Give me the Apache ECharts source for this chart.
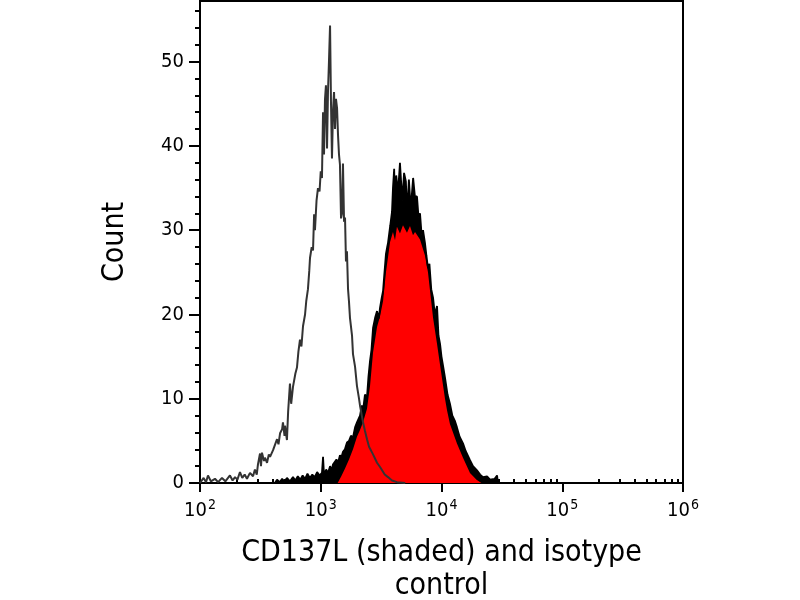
<!DOCTYPE html>
<html>
<head>
<meta charset="utf-8">
<script src="https://cdn.jsdelivr.net/npm/echarts@6/dist/echarts.min.js"></script>
<style>
  html, body { margin: 0; padding: 0; background: #fff; }
  #main { width: 800px; height: 600px; }
</style>
</head>
<body>
<div id="main"></div>
<script>
// x values are log10 of fluorescence intensity (axis spans 10^2 .. 10^6)

// isotype control (grey outline)
var isoX = [2.000, 2.030, 2.050, 2.066, 2.090, 2.124, 2.150, 2.182, 2.210, 2.248, 2.270, 2.290, 2.310, 2.331, 2.350, 2.370, 2.389, 2.414, 2.439, 2.455,
  2.470, 2.480, 2.497, 2.505, 2.513, 2.530, 2.538, 2.555, 2.570, 2.580, 2.605, 2.620, 2.638, 2.650, 2.663, 2.680, 2.687, 2.700, 2.704, 2.720,
  2.730, 2.745, 2.755, 2.770, 2.790, 2.803, 2.815, 2.828, 2.840, 2.853, 2.870, 2.880, 2.894, 2.905, 2.911, 2.925, 2.936, 2.945, 2.952, 2.965,
  2.977, 2.990, 3.000, 3.010, 3.019, 3.027, 3.035, 3.043, 3.052, 3.060, 3.068, 3.077, 3.085, 3.093, 3.101, 3.110, 3.118, 3.126, 3.135, 3.143,
  3.151, 3.159, 3.168, 3.176, 3.184, 3.193, 3.201, 3.209, 3.217, 3.226, 3.234, 3.242, 3.259, 3.267, 3.284, 3.300, 3.315, 3.325, 3.340, 3.350,
  3.366, 3.383, 3.400, 3.433, 3.466, 3.491, 3.530, 3.557, 3.590, 3.631, 3.700]
var isoCount = [0, 0.6, 0.1, 0.9, 0.2, 0.5, 0.1, 0.6, 0.2, 0.9, 0.3, 0.7, 0.4, 1.3, 0.6, 1.0, 0.5, 1.2, 0.8, 1.6,
  1.0, 2.2, 3.5, 2.0, 3.6, 2.6, 3.0, 2.4, 3.4, 3.1, 3.9, 4.5, 5.2, 4.6, 5.9, 6.4, 7.2, 5.6, 6.8, 5.1,
  8.5, 11.8, 9.4, 11.4, 13.0, 13.7, 15.6, 17.0, 16.2, 18.6, 20.0, 21.6, 23.0, 25.2, 26.7, 28.0, 27.6, 31.9, 30.0, 33.5,
  35.0, 34.6, 37.0, 36.2, 44.0, 39.0, 45.5, 47.2, 39.7, 46.5, 50.0, 54.3, 45.0, 38.5, 44.0, 46.4, 42.0, 45.6, 44.5, 41.3,
  39.0, 37.8, 31.4, 32.0, 37.9, 31.0, 31.5, 26.3, 27.5, 23.0, 21.5, 19.6, 17.5, 15.3, 13.8, 11.5, 10.2, 9.2, 8.0, 7.2,
  6.2, 5.2, 4.3, 3.4, 2.4, 1.9, 1.0, 0.7, 0.3, 0.1, 0]

// CD137L, noisy outline (black)
var cdX = [2.620, 2.638, 2.660, 2.680, 2.700, 2.720, 2.745, 2.770, 2.790, 2.810, 2.830, 2.850, 2.870, 2.890, 2.910, 2.930, 2.950, 2.970, 2.990, 3.010,
  3.019, 3.027, 3.045, 3.060, 3.077, 3.090, 3.101, 3.115, 3.130, 3.143, 3.159, 3.170, 3.184, 3.200, 3.217, 3.234, 3.250, 3.267, 3.284, 3.300,
  3.315, 3.325, 3.340, 3.350, 3.366, 3.383, 3.395, 3.408, 3.420, 3.433, 3.450, 3.466, 3.480, 3.491, 3.505, 3.516, 3.525, 3.540, 3.550, 3.557,
  3.575, 3.590, 3.598, 3.608, 3.615, 3.625, 3.640, 3.656, 3.665, 3.675, 3.690, 3.705, 3.715, 3.730, 3.745, 3.765, 3.780, 3.797, 3.810, 3.822,
  3.835, 3.847, 3.863, 3.875, 3.888, 3.900, 3.915, 3.930, 3.945, 3.963, 3.975, 3.988, 4.000, 4.012, 4.029, 4.050, 4.070, 4.090, 4.110, 4.128,
  4.150, 4.178, 4.200, 4.236, 4.261, 4.294, 4.320, 4.344, 4.377, 4.402, 4.440, 4.460, 4.468, 4.480]
var cdOutline = [0, 0.4, 0.1, 0.5, 0.2, 0.6, 0.2, 0.7, 0.3, 0.8, 0.4, 0.9, 0.5, 1.1, 0.6, 1.0, 0.7, 1.3, 0.9, 1.2,
  3.1, 1.0, 1.6, 1.2, 2.0, 1.5, 2.2, 2.0, 2.8, 2.4, 3.3, 3.0, 3.7, 4.0, 4.8, 5.0, 5.6, 5.4, 6.6, 7.2,
  7.0, 8.0, 9.2, 8.6, 10.5, 10.2, 12.6, 14.5, 15.8, 18.4, 19.6, 20.4, 19.5, 20.8, 22.0, 22.8, 24.5, 27.2, 28.0, 28.5,
  30.5, 32.2, 35.0, 37.3, 33.0, 36.5, 34.5, 38.0, 37.9, 33.5, 36.8, 35.8, 32.0, 36.0, 32.5, 36.2, 34.0, 34.0, 31.5, 32.0,
  29.5, 30.0, 28.5, 27.0, 25.5, 26.0, 23.0, 22.0, 20.0, 21.0, 17.5, 16.5, 15.0, 14.0, 12.5, 10.5, 9.4, 8.0, 7.4, 6.6,
  5.5, 4.7, 3.8, 2.7, 2.0, 1.5, 1.0, 0.7, 0.8, 0.4, 0.5, 0.9, 0, 0]

// CD137L, solid red core under the noise
var cdCoreX = [3.140, 3.170, 3.200, 3.234, 3.267, 3.300, 3.325, 3.350, 3.383, 3.408, 3.433, 3.466, 3.491, 3.516, 3.540, 3.574, 3.598, 3.615, 3.631, 3.656,
  3.681, 3.714, 3.739, 3.764, 3.781, 3.822, 3.863, 3.888, 3.905, 3.930, 3.963, 3.988, 4.029, 4.046, 4.070, 4.128, 4.178, 4.236, 4.290, 4.330]
var cdCore = [0, 0.8, 1.7, 2.8, 4.0, 5.5, 6.3, 7.2, 8.8, 11.5, 15.5, 18.5, 19.8, 21.6, 25.0, 28.6, 29.8, 28.8, 30.4, 29.6,
  30.6, 29.7, 30.5, 29.4, 29.8, 28.9, 27.0, 25.0, 22.8, 19.6, 16.5, 14.0, 10.0, 8.6, 7.0, 4.7, 3.0, 1.2, 0.4, 0]

var yMajor = [0, 10, 20, 30, 40, 50]
var yMinor = [2, 4, 6, 8, 12, 14, 16, 18, 22, 24, 26, 28, 32, 34, 36, 38, 42, 44, 46, 48, 52, 54, 56]
var decades = [2, 3, 4, 5, 6]

function pairs(xs, ys) {
  return xs.map((x, i) => [x, ys[i]])
}

// minor ticks at 2..9 x 10^n
var xMinor = []
decades.slice(0, -1).forEach(d => {
  for (let k = 2; k <= 9; k++) xMinor.push(d + Math.log10(k))
})

var font = '"DejaVu Sans Condensed", "DejaVu Sans", sans-serif'
var black = '#000'

var chart = echarts.init(document.getElementById('main'))

var xBase = {
  type: 'value', min: 2, max: 6,
  axisLine: { show: true, onZero: false, lineStyle: { color: black, width: 2 } },
  splitLine: { show: false }
}
var yBase = {
  type: 'value', min: 0, max: 57.2,
  axisLine: { show: true, lineStyle: { color: black, width: 2 } },
  splitLine: { show: false }
}

var option = {
  animation: false,
  backgroundColor: '#fff',
  grid: {
    left: 200, right: 117, top: 1, bottom: 117,
    outerBoundsMode: 'none', containLabel: false,
    show: true, borderColor: black, borderWidth: 2
  },
  xAxis: [
    Object.assign({}, xBase, {
      interval: 1,
      name: 'CD137L (shaded) and isotype\ncontrol',
      nameLocation: 'middle',
      nameGap: 54,
      nameTextStyle: { fontFamily: font, fontSize: 30, color: black, lineHeight: 33 },
      axisTick: { show: true, length: 9, lineStyle: { color: black, width: 2 } },
      axisLabel: {
        margin: 15,
        color: black,
        formatter: v => '{b|10}{s|' + v + '}',
        rich: {
          b: { fontFamily: font, fontSize: 20, color: black, verticalAlign: 'bottom' },
          s: { fontFamily: font, fontSize: 14, color: black, verticalAlign: 'bottom', padding: [0, 0, 9, 1] }
        }
      }
    }),
    Object.assign({}, xBase, {
      axisLine: { show: false },
      axisTick: { show: true, length: 4, customValues: xMinor, lineStyle: { color: black, width: 2 } },
      axisLabel: { show: false }
    })
  ],
  yAxis: [
    Object.assign({}, yBase, {
      name: 'Count',
      nameLocation: 'middle',
      nameGap: 70,
      nameTextStyle: { fontFamily: font, fontSize: 30, color: black },
      axisTick: { show: true, length: 11, customValues: yMajor, lineStyle: { color: black, width: 2 } },
      axisLabel: { margin: 16, customValues: yMajor, fontFamily: font, fontSize: 20, color: black }
    }),
    Object.assign({}, yBase, {
      position: 'left',
      axisLine: { show: false },
      axisTick: { show: true, length: 5, customValues: yMinor, lineStyle: { color: black, width: 2 } },
      axisLabel: { show: false }
    })
  ],
  series: [
    {
      name: 'CD137L outline',
      type: 'line',
      data: pairs(cdX, cdOutline),
      symbol: 'none',
      lineStyle: { color: black, width: 1.8 },
      areaStyle: { color: black, opacity: 1 }
    },
    {
      name: 'CD137L',
      type: 'line',
      data: pairs(cdCoreX, cdCore),
      symbol: 'none',
      lineStyle: { width: 0 },
      areaStyle: { color: '#ff0000', opacity: 1 }
    },
    {
      name: 'isotype control',
      type: 'line',
      data: pairs(isoX, isoCount),
      symbol: 'none',
      lineStyle: { color: '#333333', width: 2 }
    }
  ]
}

chart.setOption(option)
</script>
</body>
</html>
